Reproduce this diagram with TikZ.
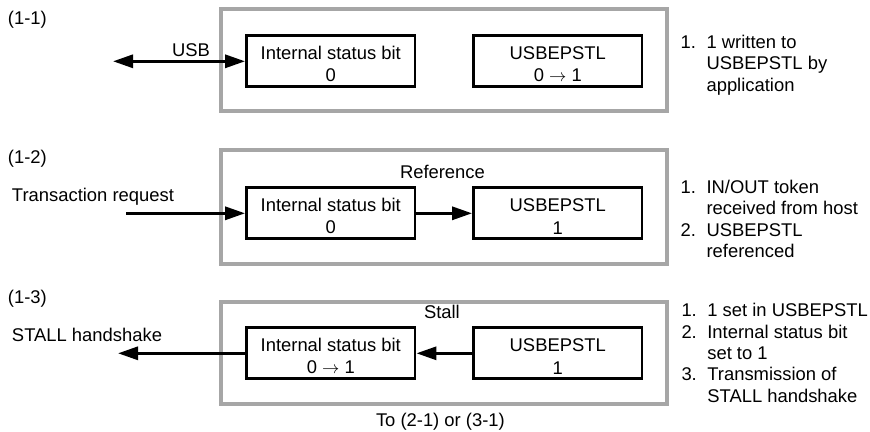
\documentclass[tikz,border=0pt]{standalone}
\usepackage{fontspec}
\setmainfont{Liberation Sans}
\usetikzlibrary{arrows.meta}
\definecolor{framegray}{HTML}{A6A6A6}
\newcommand{\liftline}{\rule{0pt}{18.8pt}}
\begin{document}
\begin{tikzpicture}[x=1pt,y=-1pt,
  every node/.style={font=\fontsize{18.4}{22.7}\selectfont, inner sep=0pt, outer sep=0pt},
  frame/.style={draw=framegray, line width=4.3pt, minimum width=446pt},
  regbox/.style={draw=black, line width=2.8pt, minimum width=168.5pt, minimum height=51pt, align=center, outer sep=1.4pt},
  conn/.style={line width=3pt, -{Triangle[length=20pt,width=13pt]}},
  biconn/.style={line width=3pt, {Triangle[length=20pt,width=13pt]}-{Triangle[length=20pt,width=13pt]}},
  lbl/.style={anchor=base west},
  note/.style={anchor=base west, font=\fontsize{18.4}{21.3}\selectfont},
]
\useasboundingbox (0,0) rectangle (870,431);

% ---------- (1-1)
\node[frame, minimum height=102pt] (f1) at (444,60) {};
\node[regbox] (a1) at (330.75,61.3) {\liftline Internal status bit\\0};
\node[regbox] (b1) at (557.75,61.3) {\liftline USBEPSTL\\0 $\rightarrow$ 1};
\coordinate (u1) at (113,61.3);
\draw[biconn] (u1) -- (a1.west);
\node[lbl] (t11) at (8,24.5) {(1-1)};
\node[anchor=base east] (usb) at (210,56) {USB};
\node[note] (n1) at (680.7,48.5) {\begin{tabular}[t]{@{}l@{\hspace{10.5pt}}l@{}}1. & 1 written to\\ & USBEPSTL by\\ & application\end{tabular}};

% ---------- (1-2)
\node[frame, minimum height=114.5pt] (f2) at (444,207) {};
\node[regbox] (a2) at (330.75,213.3) {\liftline Internal status bit\\0};
\node[regbox] (b2) at (557.75,213.3) {\liftline USBEPSTL\\1};
\coordinate (u2) at (126,213.3);
\draw[conn] (u2) -- (a2.west);
\draw[conn] (a2.east) -- (b2.west);
\node[lbl] (t12) at (8,163.5) {(1-2)};
\node[lbl] (tr) at (12,201) {Transaction request};
\node[lbl] (ref) at (400,178) {Reference};
\node[note] (n2) at (680.7,193.5) {\begin{tabular}[t]{@{}l@{\hspace{10.5pt}}l@{}}1. & IN/OUT token\\ & received from host\\ 2. & USBEPSTL\\ & referenced\end{tabular}};

% ---------- (1-3)
\node[frame, minimum height=102pt] (f3) at (444,353) {};
\node[regbox] (a3) at (330.75,353.3) {\liftline Internal status bit\\0 $\rightarrow$ 1};
\node[regbox] (b3) at (557.75,353.3) {\liftline USBEPSTL\\1};
\coordinate (u3) at (118,353.3);
\draw[conn] (b3.west) -- (a3.east);
\draw[conn] (a3.west) -- (u3);
\node[lbl] (t13) at (8,303.5) {(1-3)};
\node[lbl] (sh) at (12,341) {STALL handshake};
\node[lbl] (stall) at (424,318) {Stall};
\node[lbl] (to) at (376,426) {To (2-1) or (3-1)};
\node[note] (n3) at (681.5,316.8) {\begin{tabular}[t]{@{}l@{\hspace{10.5pt}}l@{}}1. & 1 set in USBEPSTL\\ 2. & Internal status bit\\ & set to 1\\ 3. & Transmission of\\ & STALL handshake\end{tabular}};
\end{tikzpicture}
\end{document}
